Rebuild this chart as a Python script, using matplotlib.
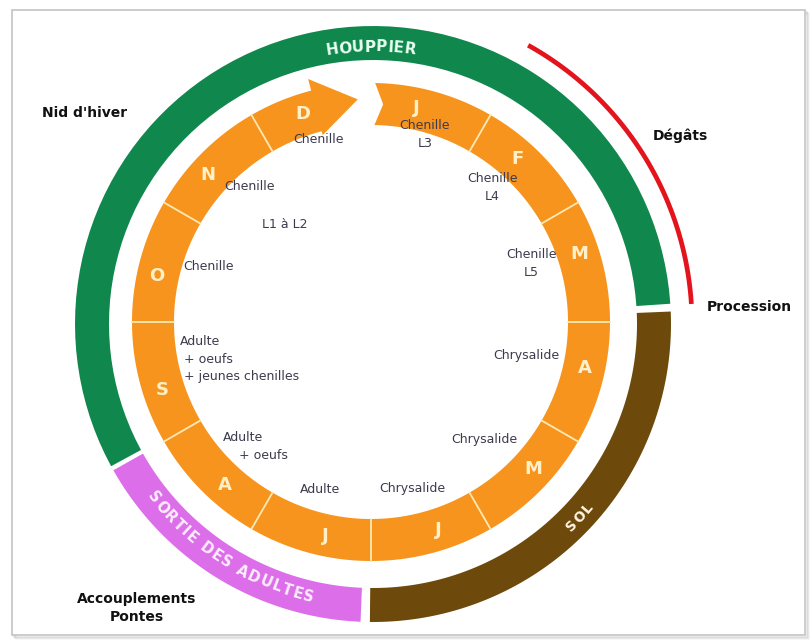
# cycle de la processionnaire du pin : anneau des mois + phases de vie

import numpy as np
import matplotlib
matplotlib.use('Agg')
import matplotlib.pyplot as plt
from matplotlib.patches import Polygon, Rectangle
from matplotlib.font_manager import FontProperties
from matplotlib.textpath import TextToPath

# mois dans le sens horaire à partir du haut (janvier)
mois = ['J', 'F', 'M', 'A', 'M', 'J', 'J', 'A', 'S', 'O', 'N', 'D']
stades = ['Chenille\nL3', 'Chenille\nL4', 'Chenille\nL5', 'Chrysalide', 'Chrysalide', 'Chrysalide',
          'Adulte', 'Adulte\n    + oeufs', 'Adulte\n + oeufs\n + jeunes chenilles',
          'Chenille', 'Chenille', 'Chenille']
stade_extra = 'L1 à L2'

# phases : position en mois (0 = début janvier, sens horaire)
phases = ['HOUPPIER', 'SORTIE DES ADULTES', 'SOL']
phases_debut = [8.05, 6.08, 2.92]
phases_fin = [14.87, 8.02, 6.02]
phases_couleur = ['#10874c', '#dc6fe9', '#6d4a0c']

degats_debut, degats_fin = 0.97, 2.88

etiquettes = ["Nid d'hiver", 'Dégâts', 'Procession', 'Accouplements\nPontes']

# mise en page (pixels)
cx, cy = 371, 322          # centre anneau orange
cx2, cy2 = 373, 324        # centre anneau des phases
r_in, r_out = 197, 239
p_in, p_out = 264, 298
r_rouge = 319
orange = '#f7941d'
trait = '#fde9b5'
gris_txt = '#3b3b4d'

stade_pos = [(74, 195), (48, 181), (20, 171), (-12, 159), (-46, 163), (-76, 172),
             (253, 175), (227, 170), (191, 195), (161, 172), (132, 182), (106, 190)]
etiq_pos = [(85, 113), (680, 136), (749, 307), (137, 608)]

narrow = ['Liberation Sans Narrow', 'DejaVu Sans']


def ang(pos):
    return 90 - 30 * pos


def arc(r, a1, a2, c=(cx, cy), n=80):
    t = np.radians(np.linspace(a1, a2, n))
    return np.column_stack([c[0] + r * np.cos(t), c[1] - r * np.sin(t)])


def pt(r, a, c=(cx, cy)):
    t = np.radians(a)
    return c[0] + r * np.cos(t), c[1] - r * np.sin(t)


def anneau(ax, a1, a2, ri, ro, color, c=(cx, cy)):
    pts = np.vstack([arc(ro, a1, a2, c), arc(ri, a2, a1, c)])
    ax.add_patch(Polygon(pts, closed=True, fc=color, ec='none', zorder=2))


ttp = TextToPath()


def texte_courbe(ax, texte, a_centre, r, size, color, exterieur=True, c=(cx2, cy2), espace=0.15):
    prop = FontProperties(family='DejaVu Sans', weight='bold', size=size)
    largeurs = []
    for ch in texte:
        if ch == ' ':
            w = 0.45 * size
        else:
            w = ttp.get_text_width_height_descent(ch, prop, ismath=False)[0] + espace * size
        largeurs.append(w * 100 / 72)
    total = sum(largeurs)
    span = np.degrees(total / r)
    cum = 0
    for ch, w in zip(texte, largeurs):
        d = np.degrees((cum + w / 2) / r)
        if exterieur:
            a = a_centre + span / 2 - d
            rot = a - 90
        else:
            a = a_centre - span / 2 + d
            rot = a + 90
        x, y = pt(r, a, c)
        ax.text(x, y, ch, fontproperties=prop, color=color, rotation=rot,
                rotation_mode='anchor', ha='center', va='center', zorder=5)
        cum += w


fig = plt.figure(figsize=(8.12, 6.41), dpi=100)
ax = fig.add_axes([0, 0, 1, 1])
ax.set_xlim(0, 812)
ax.set_ylim(641, 0)
ax.axis('off')

# cadre avec ombre
for k, a in enumerate([0.10, 0.07, 0.04]):
    ax.add_patch(Rectangle((13 + k + 1, 11 + k + 1), 793, 625, fc='none',
                           ec='black', lw=1.2, alpha=a, zorder=0))
ax.add_patch(Rectangle((12, 10), 793, 625, fc='white', ec='#c4c4c4', lw=1.2, zorder=0.5))

# phases (anneau extérieur)
for nom, d, f, col in zip(phases, phases_debut, phases_fin, phases_couleur):
    anneau(ax, ang(f), ang(d), p_in, p_out, col, c=(cx2, cy2))

texte_courbe(ax, phases[0], 90.5, 277, 11, '#e8fff2', exterieur=True, espace=0.02)
texte_courbe(ax, phases[1], 237.5, 280, 10.5, '#fdeefe', exterieur=False, espace=0.08)
texte_courbe(ax, phases[2], -43, 283, 10, '#fff4e0', exterieur=False, espace=0.08)

# dégâts (arc rouge)
xy = arc(r_rouge, ang(degats_fin), ang(degats_debut), c=(cx2, cy2))
ax.plot(xy[:, 0], xy[:, 1], color='#e3141b', lw=3.4, solid_capstyle='butt', zorder=3)

# anneau des mois
r_mid = (r_in + r_out) / 2
for i, m in enumerate(mois):
    a1, a2 = ang(i), ang(i + 1)
    if i == 0:
        # janvier : encoche côté gauche
        pts = np.vstack([arc(r_out, a1 - 1, a2), arc(r_in, a2, a1 - 1), [pt(r_mid, a1 - 3.2)]])
        ax.add_patch(Polygon(pts, closed=True, fc=orange, ec='none', zorder=2))
    elif i == len(mois) - 1:
        # décembre : flèche vers janvier
        base = a1 - 15.5
        pts = np.vstack([arc(r_in, a1, base), [pt(r_in - 4, base)], [pt(r_mid + 5, a2 + 3.4)],
                         [pt(r_out + 12, base)], arc(r_out, base, a1)])
        ax.add_patch(Polygon(pts, closed=True, fc=orange, ec='none', zorder=2))
    else:
        anneau(ax, a2, a1, r_in, r_out, orange)
    if i > 0:
        p1, p2 = pt(r_in, a1), pt(r_out, a1)
        ax.plot([p1[0], p2[0]], [p1[1], p2[1]], color=trait, lw=1.3, zorder=3)
    tx, ty = pt(219, (a1 + a2) / 2 + 3)
    ax.text(tx, ty, m, color='#fff0c8', fontsize=13, fontweight='bold',
            ha='center', va='center', zorder=4)

# stades
for i, (s, (a, r)) in enumerate(zip(stades, stade_pos)):
    x, y = pt(r, a)
    ha = 'left' if i == 8 else 'center'
    ax.text(x, y, s, family=narrow, fontsize=9, color=gris_txt, ha=ha, va='center',
            multialignment='left' if i in (7, 8) else 'center', linespacing=1.45, zorder=4)
x, y = pt(130, 131.6)
ax.text(x, y, stade_extra, family=narrow, fontsize=9, color=gris_txt,
        ha='center', va='center', zorder=4)

# étiquettes extérieures
for t, (x, y) in zip(etiquettes, etiq_pos):
    ax.text(x, y, t, fontsize=10, fontweight='bold', color='#111111', ha='center',
            va='center', multialignment='center', linespacing=1.45, zorder=4)

fig.savefig('out.png', dpi=100)
